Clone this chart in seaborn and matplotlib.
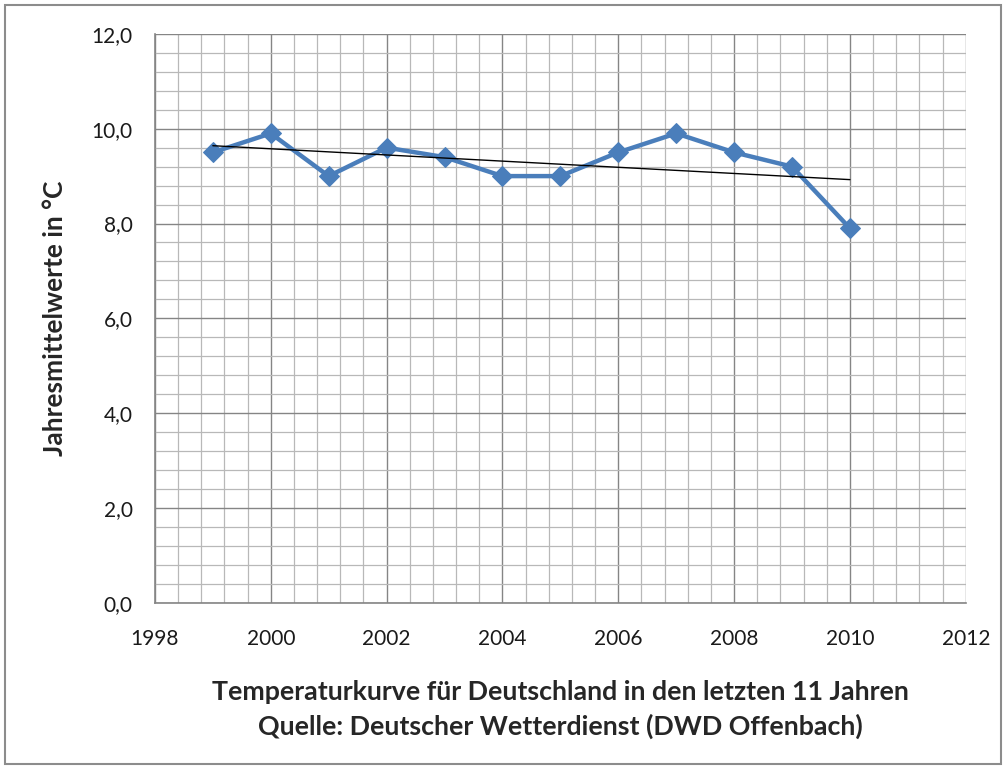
import matplotlib
matplotlib.use("Agg")
import matplotlib.pyplot as plt
import numpy as np
import pandas as pd
import seaborn as sns
from matplotlib.patches import Rectangle
from matplotlib.ticker import FuncFormatter, MultipleLocator

# Jahresmittelwerte Deutschland (DWD)
years = [1999, 2000, 2001, 2002, 2003, 2004, 2005, 2006, 2007, 2008, 2009, 2010]
temps = [9.5, 9.9, 9.0, 9.6, 9.4, 9.0, 9.0, 9.5, 9.9, 9.5, 9.2, 7.9]

x_label = ("Temperaturkurve für Deutschland in den letzten 11 Jahren\n"
           "Quelle: Deutscher Wetterdienst (DWD Offenbach)")
y_label = "Jahresmittelwerte in °C"

df = pd.DataFrame({"jahr": years, "temp": temps})

sns.set_style("white")
plt.rcParams["font.family"] = ["Lato", "DejaVu Sans"]

fig = plt.figure(figsize=(10.06, 7.69), dpi=100)
ax = fig.add_axes([0.154, 0.216, 0.806, 0.740])

# Daten-Linie mit Rauten
sns.lineplot(data=df, x="jahr", y="temp", ax=ax, color="#4A7EBB", linewidth=3.2,
             marker="D", markersize=10, markeredgecolor="#4A7EBB", zorder=4)

# lineare Trendlinie
sns.regplot(data=df, x="jahr", y="temp", ax=ax, scatter=False, ci=None,
            line_kws={"color": "black", "linewidth": 1.0, "zorder": 5})

ax.set_xlim(1998, 2012)
ax.set_ylim(0, 12)
ax.xaxis.set_major_locator(MultipleLocator(2))
ax.xaxis.set_minor_locator(MultipleLocator(0.4))
ax.yaxis.set_major_locator(MultipleLocator(2))
ax.yaxis.set_minor_locator(MultipleLocator(0.4))
ax.yaxis.set_major_formatter(FuncFormatter(lambda v, _: f"{v:.1f}".replace(".", ",")))

ax.grid(which="major", color="#858585", linewidth=1.0)
ax.grid(which="minor", color="#b8b8b8", linewidth=0.9)
ax.set_axisbelow(True)

for side in ["top", "right"]:
    ax.spines[side].set_visible(False)
for side in ["left", "bottom"]:
    ax.spines[side].set_color("#858585")
    ax.spines[side].set_linewidth(1.2)

ax.tick_params(axis="both", which="major", direction="out", length=6, width=1,
               color="#858585", labelsize=15, labelcolor="#1a1a1a")
ax.tick_params(axis="x", which="major", pad=13)
ax.tick_params(axis="y", which="major", pad=10)
ax.tick_params(axis="both", which="minor", length=0)

ax.set_xlabel(x_label, fontsize=19.3, fontweight="bold", labelpad=22, linespacing=1.45)
ax.set_ylabel(y_label, fontsize=19, fontweight="bold", labelpad=18)

# grauer Rahmen um das ganze Diagramm
fig.patches.append(Rectangle((0.005, 0.006), 0.99, 0.988, transform=fig.transFigure,
                             fill=False, edgecolor="#8c8c8c", linewidth=1.5))

fig.savefig("out.png", dpi=100)
